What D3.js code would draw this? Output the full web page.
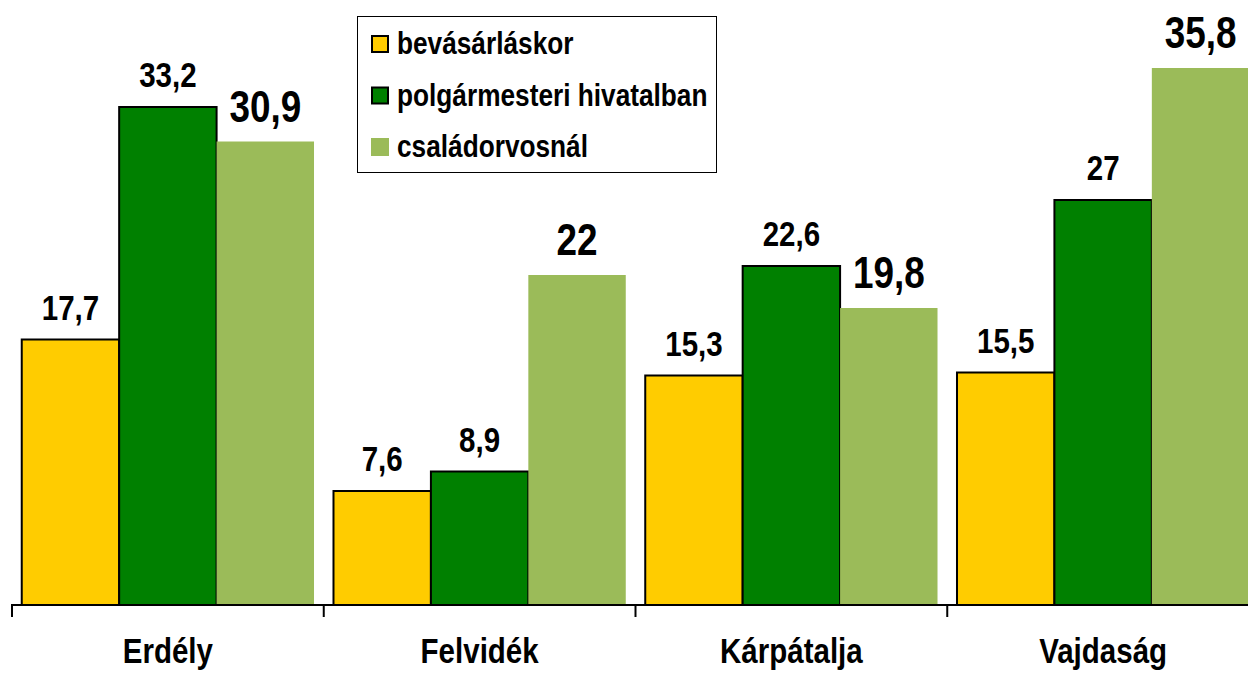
<!DOCTYPE html>
<html>
<head>
<meta charset="utf-8">
<script src="https://cdn.jsdelivr.net/npm/d3@7"></script>
<style>
  html, body { margin: 0; padding: 0; background: #fff; }
  svg { display: block; font-family: "Liberation Sans", Arial, sans-serif; font-weight: bold; }
</style>
</head>
<body>
<svg id="chart" width="1248" height="674"></svg>
<script>
// regions on the x axis
const categories = ['Erdély', 'Felvidék', 'Kárpátalja', 'Vajdaság'];
const seriesNames = ['bevásárláskor', 'polgármesteri hivatalban', 'családorvosnál'];

const shopping = [17.7, 7.6, 15.3, 15.5];
const mayorOffice = [33.2, 8.9, 22.6, 27];
const doctor = [30.9, 22, 19.8, 35.8];

const seriesValues = [shopping, mayorOffice, doctor];
const colors = ['#ffcc00', '#008000', '#9bbb59'];
const outlined = [true, true, false];

// no narrow font installed, so squeeze the regular one
const NARROW = 0.82;
const at = (x, y) => `translate(${x},${y}) scale(${NARROW},1)`;

const fmt = v => String(v).replace('.', ',');

const svg = d3.select('#chart');

const baseY = 605;
const x0 = d3.scaleBand()
  .domain(categories)
  .range([12, 1259])
  .paddingInner(0)
  .paddingOuter(0);

const x1 = d3.scaleBand()
  .domain(d3.range(seriesNames.length))
  .range([0, x0.bandwidth()])
  .paddingInner(0)
  .paddingOuter(0.1);

const y = d3.scaleLinear()
  .domain([0, 40])
  .range([baseY, 5]);

// bars
const groups = svg.append('g')
  .selectAll('g')
  .data(categories)
  .join('g')
  .attr('transform', c => `translate(${x0(c)},0)`);

const cells = (c, ci) => seriesValues.map((vals, si) => ({ si, value: vals[ci] }));

groups.selectAll('rect')
  .data(cells)
  .join('rect')
  .attr('x', d => x1(d.si))
  .attr('y', d => y(d.value))
  .attr('width', x1.bandwidth())
  .attr('height', d => baseY - y(d.value))
  .attr('fill', d => colors[d.si])
  .attr('stroke', d => outlined[d.si] ? '#000' : 'none')
  .attr('stroke-width', 2);

// value labels
groups.selectAll('text')
  .data(cells)
  .join('text')
  .attr('transform', d => at(x1(d.si) + x1.bandwidth() / 2, y(d.value) - 20))
  .attr('text-anchor', 'middle')
  .attr('font-size', d => d.si === 2 ? 45 : 36)
  .attr('fill', '#000')
  .text(d => fmt(d.value));

// x axis: line, ticks at band boundaries, labels at centres
const axis = svg.append('g');
axis.append('line')
  .attr('x1', 11).attr('x2', 1248)
  .attr('y1', baseY).attr('y2', baseY)
  .attr('stroke', '#000').attr('stroke-width', 2);

axis.selectAll('line.tick')
  .data(categories)
  .join('line')
  .attr('class', 'tick')
  .attr('x1', c => x0(c)).attr('x2', c => x0(c))
  .attr('y1', baseY).attr('y2', baseY + 12)
  .attr('stroke', '#000').attr('stroke-width', 2);

axis.selectAll('text')
  .data(categories)
  .join('text')
  .attr('transform', c => at(x0(c) + x0.bandwidth() / 2, 663))
  .attr('text-anchor', 'middle')
  .attr('font-size', 36)
  .text(c => c);

// legend
const legend = svg.append('g');
legend.append('rect')
  .attr('x', 357.5).attr('y', 16.5)
  .attr('width', 359).attr('height', 156)
  .attr('fill', '#fff')
  .attr('stroke', '#000').attr('stroke-width', 1);

const items = legend.selectAll('g')
  .data(seriesNames)
  .join('g')
  .attr('transform', (d, i) => `translate(0,${44 + i * 51.5})`);

items.append('rect')
  .attr('x', (d, i) => outlined[i] ? 372 : 371)
  .attr('y', (d, i) => outlined[i] ? -8 : -9)
  .attr('width', (d, i) => outlined[i] ? 16 : 18)
  .attr('height', (d, i) => outlined[i] ? 16 : 18)
  .attr('fill', (d, i) => colors[i])
  .attr('stroke', (d, i) => outlined[i] ? '#000' : 'none')
  .attr('stroke-width', 2);

items.append('text')
  .attr('transform', at(397, 10))
  .attr('font-size', 32)
  .text(d => d);
</script>
</body>
</html>
